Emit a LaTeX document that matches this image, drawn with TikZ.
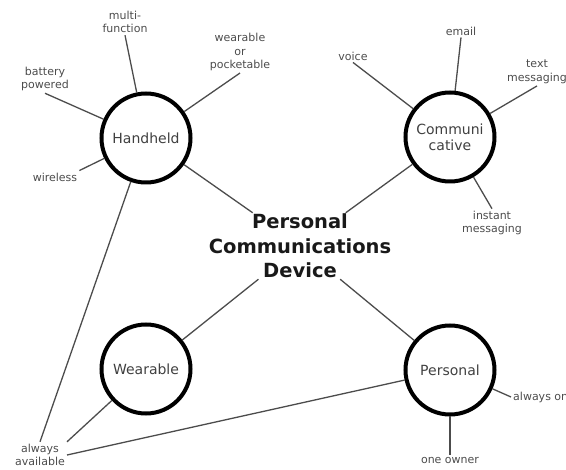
\documentclass[tikz,border=0pt]{standalone}
\usepackage{fontspec}
\setmainfont{DejaVu Sans}
\begin{document}
\begin{tikzpicture}[x=1pt,y=-1pt,
  hub/.style={circle,draw=black,line width=4pt,minimum size=89pt,inner sep=0pt,
    font=\fontsize{14}{16}\selectfont,text=black!75,align=center},
  leaf/.style={font=\fontsize{11}{13.5}\selectfont,text=black!70,align=center,inner sep=2pt},
  spoke/.style={draw=black!70,line width=1.3pt},
  core/.style={font=\fontsize{19.5}{24.5}\selectfont\bfseries,text=black!90,align=center,inner sep=1pt}]
\useasboundingbox (0,0) rectangle (566,470);
\begin{scope}
\clip (0,0) rectangle (566,470);
\node[core] (pcd) at (300,246) {Personal\\Communications\\Device};
\node[hub] (H) at (146,138) {Handheld};
\node[hub] (C) at (450,137) {Communi\\cative};
\node[hub] (W) at (146,369) {Wearable};
\node[hub] (P) at (450,370) {Personal};
% leaves
\node[leaf] (mf) at (125,22) {multi-\\function};
\node[leaf] (wp) at (240,52) {wearable\\or\\pocketable};
\node[leaf] (bp) at (45,79) {battery\\powered};
\node[leaf] (wl) at (55,177) {wireless};
\node[leaf] (aa) at (40,455) {always\\available};
\node[leaf] (vo) at (353,56) {voice};
\node[leaf] (em) at (461,31) {email};
\node[leaf] (tm) at (537,72) {text\\messaging};
\node[leaf] (im) at (492,223) {instant\\messaging};
\node[leaf,anchor=west] (ao) at (511,397) {always on};
\node[leaf] (oo) at (450,460) {one owner};
% connectors
\draw[spoke] (H) -- (pcd);
\draw[spoke] (C) -- (pcd);
\draw[spoke] (W) -- (pcd);
\draw[spoke] (P) -- (pcd);
\draw[spoke] (H) -- (mf.south);
\draw[spoke] (H) -- (wp.south);
\draw[spoke] (H) -- (bp.south);
\draw[spoke] (H) -- (wl.north east);
\draw[spoke] (H) -- (aa.north);
\draw[spoke] (W) -- (aa.north east);
\draw[spoke] (P) -- (aa.east);
\draw[spoke] (C) -- (vo.south);
\draw[spoke] (C) -- (em.south);
\draw[spoke] (C) -- (tm.south);
\draw[spoke] (C) -- (im.north);
\draw[spoke] (P) -- (ao.west);
\draw[spoke] (P) -- (oo.north);
\end{scope}
\end{tikzpicture}
\end{document}
